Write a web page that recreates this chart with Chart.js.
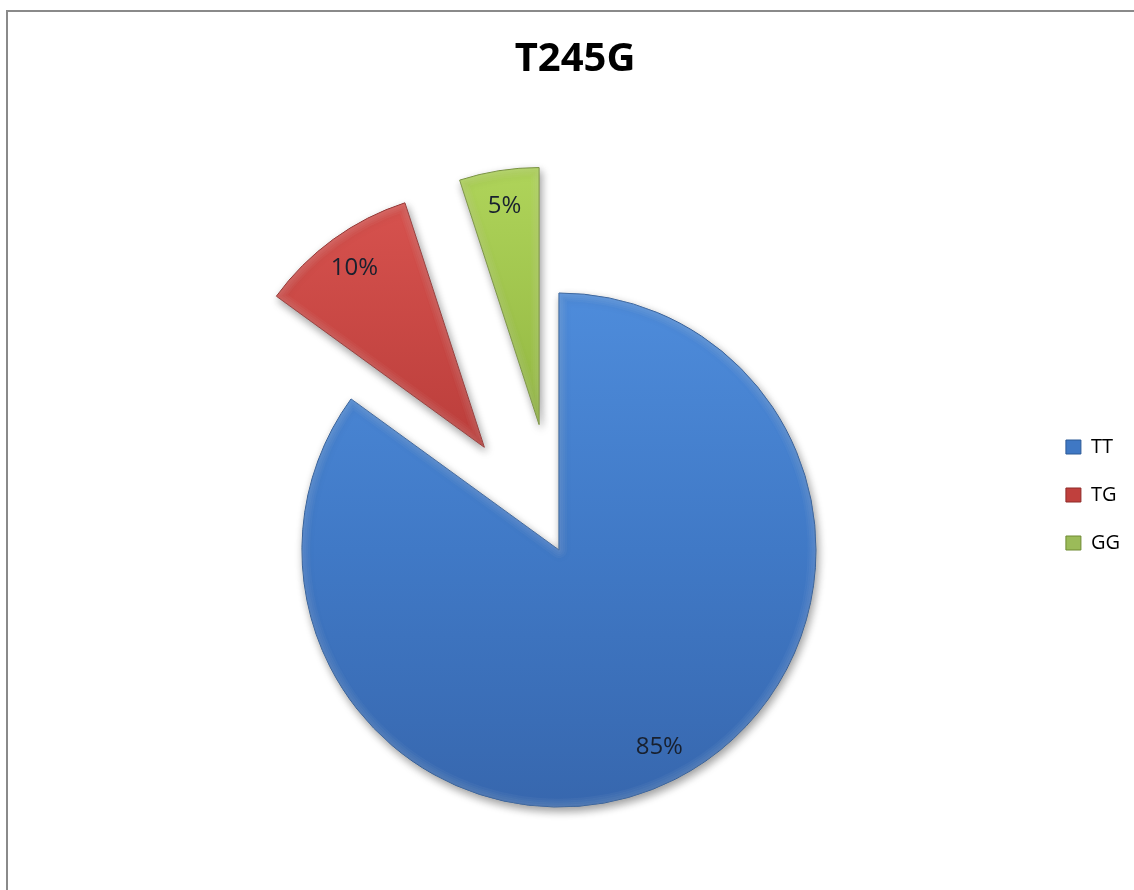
<!DOCTYPE html>
<html>
<head>
<meta charset="utf-8">
<script src="https://cdn.jsdelivr.net/npm/chart.js@4"></script>
<style>
  html, body { margin: 0; padding: 0; background: #ffffff; overflow: hidden; width: 1134px; height: 890px; }
  #frame { position: absolute; left: 6px; top: 10px; width: 1300px; height: 1100px; border-left: 2px solid #8a8a8a; border-top: 2px solid #8a8a8a; box-sizing: border-box; }
  #wrap { position: absolute; left: 0; top: 0; width: 1134px; height: 990px; }
</style>
</head>
<body>
<div id="frame"></div>
<div id="wrap"><canvas id="c" width="1134" height="990"></canvas></div>
<script>
const chartTitle = 'T245G';
const categories = ['TT', 'TG', 'GG'];
const values = [85, 10, 5];

const total = values.reduce((a, b) => a + b, 0);
const percentLabels = values.map(v => Math.round(v / total * 100) + '%');

const gradStops = [
  ['#4e8cdb', '#4079c6', '#3767ae'],
  ['#d8534f', '#bb3e3b', '#a53331'],
  ['#afd45a', '#93b742', '#809f36']
];
const solidColors = ['#3f78c4', '#c0403d', '#9bbb59'];
const borderColors = ['#2d5a96', '#8e2b29', '#6f8a33'];
const explode = [0, 127, 127];
const RADIUS = 257;

const gradCache = {};
function sliceGradient(context) {
  const chart = context.chart;
  const area = chart.chartArea;
  const i = context.dataIndex;
  if (!area) return solidColors[i];
  const cy = (area.top + area.bottom) / 2;
  const key = i + ':' + cy;
  if (!gradCache[key]) {
    const g = chart.ctx.createLinearGradient(0, cy - RADIUS, 0, cy + RADIUS);
    g.addColorStop(0, gradStops[i][0]);
    g.addColorStop(0.5, gradStops[i][1]);
    g.addColorStop(1, gradStops[i][2]);
    gradCache[key] = g;
  }
  return gradCache[key];
}

const explodePlugin = {
  id: 'explodeDraw',
  beforeDatasetDraw(chart, args) {
    const ctx = chart.ctx;
    args.meta.data.forEach((el, i) => {
      const mid = (el.startAngle + el.endAngle) / 2;
      const d = explode[i] || 0;
      ctx.save();
      ctx.translate(Math.cos(mid) * d, Math.sin(mid) * d);
      ctx.shadowColor = 'rgba(0,0,0,0.38)';
      ctx.shadowBlur = 9;
      ctx.shadowOffsetX = 2;
      ctx.shadowOffsetY = 4;
      el.draw(ctx);
      ctx.shadowColor = 'rgba(0,0,0,0)';
      [2, 4, 6, 8].forEach(w => {
        const bevel = Object.create(el);
        bevel.options = Object.assign({}, el.options, {
          backgroundColor: 'rgba(0,0,0,0)',
          borderColor: 'rgba(255,255,255,0.035)',
          borderWidth: w,
          borderAlign: 'inner'
        });
        bevel.draw(ctx);
      });
      ctx.restore();
    });
    return false;
  },
  afterDatasetsDraw(chart) {
    const ctx = chart.ctx;
    const meta = chart.getDatasetMeta(0);
    ctx.save();
    ctx.font = '24px "Open Sans"';
    ctx.fillStyle = '#18202e';
    ctx.textAlign = 'center';
    ctx.textBaseline = 'middle';
    meta.data.forEach((el, i) => {
      const mid = (el.startAngle + el.endAngle) / 2;
      const r = (explode[i] || 0) + el.outerRadius * 0.86;
      ctx.fillText(percentLabels[i], el.x + Math.cos(mid) * r, el.y + Math.sin(mid) * r);
    });
    ctx.restore();
  }
};

new Chart(document.getElementById('c'), {
  type: 'pie',
  data: {
    labels: categories,
    datasets: [{
      data: values,
      backgroundColor: sliceGradient,
      borderColor: borderColors,
      borderWidth: 1,
      offset: 0
    }]
  },
  options: {
    responsive: false,
    animation: false,
    radius: RADIUS,
    layout: { padding: { left: 20, right: 4, top: 0, bottom: 0 } },
    plugins: {
      title: {
        display: true,
        text: chartTitle,
        color: '#000000',
        font: { family: 'Open Sans', size: 40, weight: 'bold' },
        padding: { top: 36, bottom: 26 }
      },
      subtitle: {
        display: true,
        position: 'left',
        text: '',
        font: { size: 10 },
        padding: { top: 24, bottom: 24 }
      },
      legend: {
        position: 'right',
        labels: {
          font: { family: 'Open Sans', size: 20 },
          color: '#000000',
          boxWidth: 15,
          boxHeight: 14,
          padding: 28,
          generateLabels: () => categories.map((c, i) => ({
            text: c,
            fillStyle: solidColors[i],
            strokeStyle: borderColors[i],
            lineWidth: 1,
            hidden: false,
            index: i,
            fontColor: '#000000'
          }))
        }
      },
      tooltip: { enabled: false }
    }
  },
  plugins: [explodePlugin]
});
</script>
</body>
</html>
